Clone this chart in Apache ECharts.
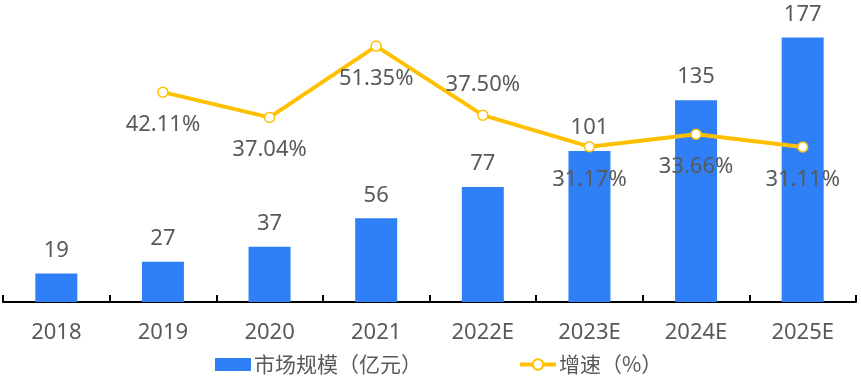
<!DOCTYPE html>
<html><head><meta charset="utf-8">
<script src="https://cdn.jsdelivr.net/npm/echarts@6/dist/echarts.min.js"></script>
<style>html,body{margin:0;padding:0;background:#fff}#c{width:861px;height:378px}</style>
</head><body><div id="c"></div>
<script>
const categories = ['2018','2019','2020','2021','2022E','2023E','2024E','2025E'];
const marketSize = [19,27,37,56,77,101,135,177];
const growth = [null,42.11,37.04,51.35,37.50,31.17,33.66,31.11];
const growthLabelAbove = [false,false,false,false,true,false,false,false];
const seriesNames = ['市场规模（亿元）','增速（%）'];

const FONT = '"Noto Sans", "Noto Sans CJK SC", sans-serif';
const TXT = '#595959';
const chart = echarts.init(document.getElementById('c'));
chart.setOption({
  animation:false,
  textStyle:{fontFamily:FONT},
  grid:{left:3,right:5,top:3,bottom:76,containLabel:false},
  legend:{
    left:210, top:349, itemWidth:36, itemHeight:13, itemGap:96,
    textStyle:{fontSize:21,color:TXT,fontFamily:'"Noto Sans CJK SC", sans-serif',padding:[0,0,0,-2]},
    data:[{name:seriesNames[0],icon:'rect'},{name:seriesNames[1],lineStyle:{width:4,color:'#FFC000'}}]
  },
  xAxis:{
    type:'category', data:categories,
    axisLine:{show:true,lineStyle:{color:'#000',width:2}},
    axisTick:{show:true,inside:true,length:7,lineStyle:{color:'#000',width:2}},
    axisLabel:{fontSize:22,color:TXT,margin:20,fontFamily:FONT}
  },
  yAxis:[
    {type:'value',min:0,max:200,show:false,splitLine:{show:false}},
    {type:'value',min:0,max:60,show:false,splitLine:{show:false}}
  ],
  series:[
    {name:seriesNames[0],type:'bar',data:marketSize,barWidth:42,
     itemStyle:{color:'#2F80F7'},
     label:{show:true,position:'top',distance:12,fontSize:22,color:TXT,fontFamily:FONT}},
    {name:seriesNames[1],type:'line',yAxisIndex:1,
     data:growth.map((v,i)=>({value:v,label:{position:growthLabelAbove[i]?'top':'bottom',distance:growthLabelAbove[i]?14:16}})),
     symbol:'circle',symbolSize:10,
     lineStyle:{color:'#FFC000',width:4},
     itemStyle:{color:'#fff',borderColor:'#FFC000',borderWidth:1.5},
     label:{show:true,fontSize:22,color:TXT,fontFamily:FONT,formatter:p=>p.value.toFixed(2)+'%'},
     z:5}
  ]
});
</script></body></html>
